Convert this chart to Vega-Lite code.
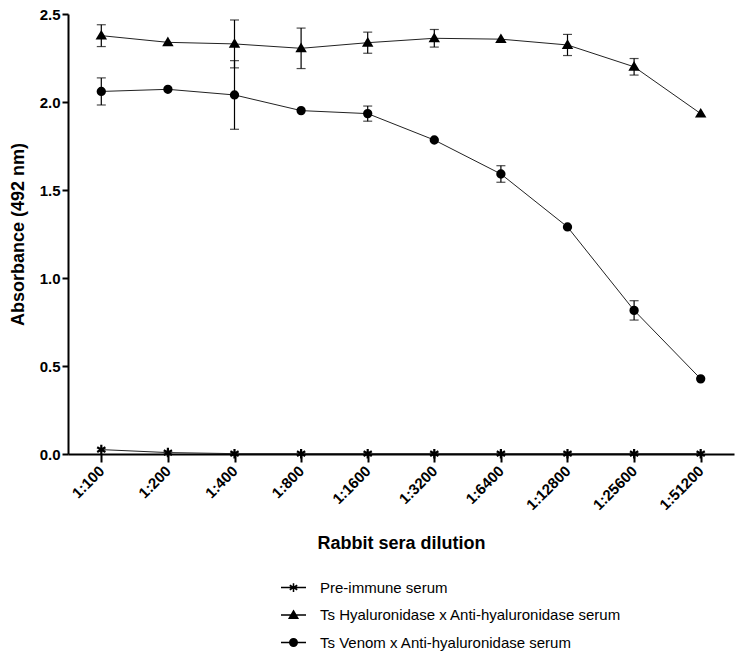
{
  "$schema": "https://vega.github.io/schema/vega-lite/v6.json",
  "autosize": "none",
  "width": 666,
  "height": 440,
  "padding": {"left": 68, "top": 14, "right": 6, "bottom": 204},
  "background": "white",
  "config": {
    "view": {"stroke": null},
    "font": "Liberation Sans",
    "axis": {
      "domainColor": "black",
      "domainWidth": 2,
      "tickColor": "black",
      "tickWidth": 2,
      "labelColor": "black",
      "titleColor": "black",
      "labelFont": "Liberation Sans",
      "titleFont": "Liberation Sans",
      "labelFontWeight": "bold",
      "titleFontWeight": "bold",
      "labelFontSize": 15,
      "titleFontSize": 18,
      "grid": false
    },
    "legend": {
      "labelFont": "Liberation Sans",
      "labelFontSize": 15,
      "labelColor": "black"
    }
  },
  "datasets": {
    "points": [
      {"dilution": "1:100", "series": "Pre-immune serum", "value": 0.025},
      {"dilution": "1:200", "series": "Pre-immune serum", "value": 0.008},
      {"dilution": "1:400", "series": "Pre-immune serum", "value": 0.002},
      {"dilution": "1:800", "series": "Pre-immune serum", "value": 0.002},
      {"dilution": "1:1600", "series": "Pre-immune serum", "value": 0.002},
      {"dilution": "1:3200", "series": "Pre-immune serum", "value": 0.002},
      {"dilution": "1:6400", "series": "Pre-immune serum", "value": 0.002},
      {"dilution": "1:12800", "series": "Pre-immune serum", "value": 0.002},
      {"dilution": "1:25600", "series": "Pre-immune serum", "value": 0.002},
      {"dilution": "1:51200", "series": "Pre-immune serum", "value": 0.002},
      {"dilution": "1:100", "series": "Ts Hyaluronidase x Anti-hyaluronidase serum", "value": 2.377},
      {"dilution": "1:200", "series": "Ts Hyaluronidase x Anti-hyaluronidase serum", "value": 2.339},
      {"dilution": "1:400", "series": "Ts Hyaluronidase x Anti-hyaluronidase serum", "value": 2.33},
      {"dilution": "1:800", "series": "Ts Hyaluronidase x Anti-hyaluronidase serum", "value": 2.305},
      {"dilution": "1:1600", "series": "Ts Hyaluronidase x Anti-hyaluronidase serum", "value": 2.337},
      {"dilution": "1:3200", "series": "Ts Hyaluronidase x Anti-hyaluronidase serum", "value": 2.362},
      {"dilution": "1:6400", "series": "Ts Hyaluronidase x Anti-hyaluronidase serum", "value": 2.357},
      {"dilution": "1:12800", "series": "Ts Hyaluronidase x Anti-hyaluronidase serum", "value": 2.324},
      {"dilution": "1:25600", "series": "Ts Hyaluronidase x Anti-hyaluronidase serum", "value": 2.2},
      {"dilution": "1:51200", "series": "Ts Hyaluronidase x Anti-hyaluronidase serum", "value": 1.934},
      {"dilution": "1:100", "series": "Ts Venom x Anti-hyaluronidase serum", "value": 2.06},
      {"dilution": "1:200", "series": "Ts Venom x Anti-hyaluronidase serum", "value": 2.072},
      {"dilution": "1:400", "series": "Ts Venom x Anti-hyaluronidase serum", "value": 2.04},
      {"dilution": "1:800", "series": "Ts Venom x Anti-hyaluronidase serum", "value": 1.951},
      {"dilution": "1:1600", "series": "Ts Venom x Anti-hyaluronidase serum", "value": 1.934},
      {"dilution": "1:3200", "series": "Ts Venom x Anti-hyaluronidase serum", "value": 1.784},
      {"dilution": "1:6400", "series": "Ts Venom x Anti-hyaluronidase serum", "value": 1.591},
      {"dilution": "1:12800", "series": "Ts Venom x Anti-hyaluronidase serum", "value": 1.29},
      {"dilution": "1:25600", "series": "Ts Venom x Anti-hyaluronidase serum", "value": 0.816},
      {"dilution": "1:51200", "series": "Ts Venom x Anti-hyaluronidase serum", "value": 0.427}
    ],
    "errors": [
      {"dilution": "1:100", "series": "Ts Hyaluronidase x Anti-hyaluronidase serum", "lo": 2.315, "hi": 2.439},
      {"dilution": "1:400", "series": "Ts Hyaluronidase x Anti-hyaluronidase serum", "lo": 2.194, "hi": 2.466},
      {"dilution": "1:800", "series": "Ts Hyaluronidase x Anti-hyaluronidase serum", "lo": 2.19, "hi": 2.42},
      {"dilution": "1:1600", "series": "Ts Hyaluronidase x Anti-hyaluronidase serum", "lo": 2.277, "hi": 2.397},
      {"dilution": "1:3200", "series": "Ts Hyaluronidase x Anti-hyaluronidase serum", "lo": 2.312, "hi": 2.412},
      {"dilution": "1:12800", "series": "Ts Hyaluronidase x Anti-hyaluronidase serum", "lo": 2.264, "hi": 2.384},
      {"dilution": "1:25600", "series": "Ts Hyaluronidase x Anti-hyaluronidase serum", "lo": 2.153, "hi": 2.247},
      {"dilution": "1:100", "series": "Ts Venom x Anti-hyaluronidase serum", "lo": 1.983, "hi": 2.137},
      {"dilution": "1:400", "series": "Ts Venom x Anti-hyaluronidase serum", "lo": 1.845, "hi": 2.235},
      {"dilution": "1:1600", "series": "Ts Venom x Anti-hyaluronidase serum", "lo": 1.891, "hi": 1.977},
      {"dilution": "1:6400", "series": "Ts Venom x Anti-hyaluronidase serum", "lo": 1.544, "hi": 1.638},
      {"dilution": "1:25600", "series": "Ts Venom x Anti-hyaluronidase serum", "lo": 0.761, "hi": 0.871}
    ]
  },
  "layer": [
    {
      "data": {"name": "errors"},
      "mark": {"type": "errorbar", "ticks": {"size": 9, "thickness": 1.2, "color": "black"}, "rule": {"strokeWidth": 1.2, "color": "black"}},
      "encoding": {
        "x": {
          "field": "dilution", "type": "ordinal", "sort": null,
          "scale": {"type": "point", "domain": ["1:100","1:200","1:400","1:800","1:1600","1:3200","1:6400","1:12800","1:25600","1:51200"], "padding": 0.5},
          "axis": {"title": "Rabbit sera dilution", "labelAngle": -45, "labelAlign": "right", "labelBaseline": "middle", "tickSize": 8, "labelPadding": 6, "titlePadding": 22}
        },
        "y": {
          "field": "lo", "type": "quantitative",
          "scale": {"domain": [0, 2.5], "nice": false},
          "axis": {"title": "Absorbance (492 nm)", "values": [0, 0.5, 1, 1.5, 2, 2.5], "format": ".1f", "tickSize": 6, "titlePadding": 12}
        },
        "y2": {"field": "hi"}
      }
    },
    {
      "data": {"name": "points"},
      "mark": {"type": "line", "color": "#222", "strokeWidth": 1},
      "encoding": {
        "x": {"field": "dilution", "type": "ordinal", "sort": null},
        "y": {"field": "value", "type": "quantitative"},
        "detail": {"field": "series"}
      }
    },
    {
      "data": {"name": "points"},
      "mark": {"type": "point", "filled": true, "fill": "black", "stroke": "black", "strokeWidth": 2.2, "opacity": 1, "size": 90},
      "encoding": {
        "x": {"field": "dilution", "type": "ordinal", "sort": null},
        "y": {"field": "value", "type": "quantitative"},
        "shape": {
          "field": "series", "type": "nominal",
          "scale": {
            "domain": ["Pre-immune serum", "Ts Hyaluronidase x Anti-hyaluronidase serum", "Ts Venom x Anti-hyaluronidase serum"],
            "range": [
              "M0,-1V1M-0.87,-0.5L0.87,0.5M-0.87,0.5L0.87,-0.5",
              "M0,-0.75L0.8,0.6L-0.8,0.6Z",
              "M0.75,0C0.75,0.414,0.414,0.75,0,0.75C-0.414,0.75,-0.75,0.414,-0.75,0C-0.75,-0.414,-0.414,-0.75,0,-0.75C0.414,-0.75,0.75,-0.414,0.75,0Z"
            ]
          },
          "legend": null
        }
      }
    },
    {
      "data": {"name": "points"},
      "transform": [{"filter": "datum.value < -100"}],
      "mark": {"type": "point", "filled": true, "fill": "black", "stroke": "black", "strokeWidth": 1.8, "opacity": 1},
      "encoding": {
        "x": {"field": "dilution", "type": "ordinal", "sort": null},
        "y": {"field": "value", "type": "quantitative"},
        "shape": {
          "field": "series", "type": "nominal",
          "scale": {
            "domain": ["Pre-immune serum", "Ts Hyaluronidase x Anti-hyaluronidase serum", "Ts Venom x Anti-hyaluronidase serum"],
            "range": [
              "M-1,0H1M0,-0.35V0.35M-0.3,-0.18L0.3,0.18M-0.3,0.18L0.3,-0.18",
              "M-1,0H1M0,-0.32L0.34,0.26L-0.34,0.26Z",
              "M-1,0H1M0.3,0C0.3,0.166,0.166,0.3,0,0.3C-0.166,0.3,-0.3,0.166,-0.3,0C-0.3,-0.166,-0.166,-0.3,0,-0.3C0.166,-0.3,0.3,-0.166,0.3,0Z"
            ]
          },
          "legend": {
            "title": null,
            "orient": "none",
            "legendX": 212,
            "legendY": 560,
            "padding": 0,
            "symbolSize": 625,
            "labelOffset": 13,
            "rowPadding": 5.5,
            "labelLimit": 400,
            "encode": {
              "symbols": {
                "update": {
                  "fill": {"value": "black"},
                  "stroke": {"value": "black"},
                  "strokeWidth": {"value": 1.8},
                  "opacity": {"value": 1},
                  "fillOpacity": {"value": 1},
                  "strokeOpacity": {"value": 1}
                }
              }
            }
          }
        }
      }
    }
  ],
  "resolve": {"scale": {"shape": "independent"}}
}
